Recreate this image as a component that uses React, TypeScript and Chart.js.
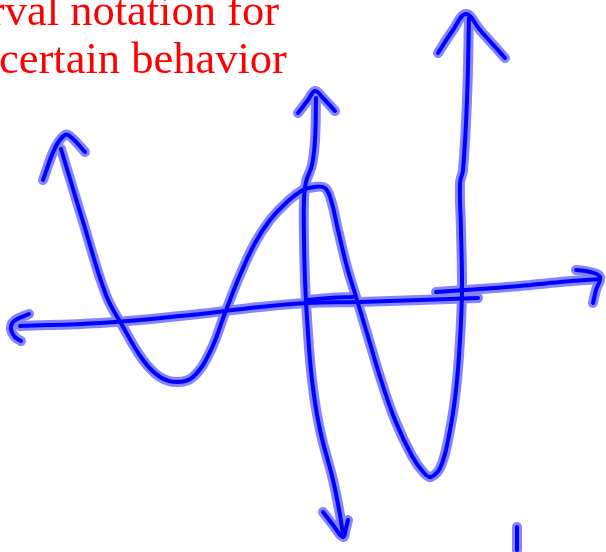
import { useEffect, useRef } from "react";
import { Chart, registerables } from "chart.js";

Chart.register(...registerables);

const WIDTH = 606;
const HEIGHT = 552;

// Caption (red serif text, top-left)
const captionLines = ["interval notation for", "certain behavior"];

// Hand-drawn strokes, in sketch-space units (x to the right, y downward)
const waveX = [61, 84, 106, 122, 143, 160, 177, 193, 210, 225, 240, 255, 270, 287, 303, 315, 325, 331, 338, 347, 357, 369, 381, 395, 412, 424, 431, 441, 450, 456, 460, 462, 461, 460, 463, 467, 469];
const waveY = [149, 225, 295, 325, 360, 377, 382, 377, 352, 313, 275, 243, 220, 202, 190, 187, 188, 200, 230, 267, 300, 340, 380, 420, 456, 473, 477, 466, 430, 390, 340, 290, 230, 183, 170, 100, 18];

const leftArrowX = [43, 55, 65, 71, 85];
const leftArrowY = [180, 148, 135, 137, 152];

const rightArrowX = [438, 453, 466, 480, 505];
const rightArrowY = [53, 30, 14, 30, 58];

const yAxisX = [316, 315, 312, 306, 304, 304, 305, 307, 312, 320, 333, 340, 343];
const yAxisY = [98, 140, 165, 182, 200, 240, 280, 318, 380, 430, 480, 515, 535];

const yTopArrowX = [298, 308, 315, 323, 335];
const yTopArrowY = [113, 100, 91, 98, 111];

const yBottomArrowX = [323, 333, 343, 346, 348];
const yBottomArrowY = [512, 525, 537, 528, 520];

const xAxisX = [20, 100, 180, 260, 307, 360, 420, 478];
const xAxisY = [326, 323, 316, 307, 303, 302, 300, 298];

const xAxisPatchX = [307, 330, 353];
const xAxisPatchY = [300, 298, 297];

const xAxisRightX = [436, 480, 520, 560, 600];
const xAxisRightY = [292, 289, 286, 282, 279];

const xLeftArrowX = [29, 14, 11, 15, 21];
const xLeftArrowY = [314, 321, 329, 337, 341];

const xRightArrowX = [576, 590, 600, 596, 593];
const xRightArrowY = [270, 272, 277, 290, 303];

const tickMarkX = [517, 517];
const tickMarkY = [527, 550];

const strokes = [
  { name: "wave", xs: waveX, ys: waveY },
  { name: "wave-left-arrow", xs: leftArrowX, ys: leftArrowY },
  { name: "wave-right-arrow", xs: rightArrowX, ys: rightArrowY },
  { name: "y-axis", xs: yAxisX, ys: yAxisY },
  { name: "y-axis-top", xs: yTopArrowX, ys: yTopArrowY },
  { name: "y-axis-bottom", xs: yBottomArrowX, ys: yBottomArrowY },
  { name: "x-axis", xs: xAxisX, ys: xAxisY },
  { name: "x-axis-patch", xs: xAxisPatchX, ys: xAxisPatchY },
  { name: "x-axis-right", xs: xAxisRightX, ys: xAxisRightY },
  { name: "x-axis-left-arrow", xs: xLeftArrowX, ys: xLeftArrowY },
  { name: "x-axis-right-arrow", xs: xRightArrowX, ys: xRightArrowY },
  { name: "tick", xs: tickMarkX, ys: tickMarkY },
];

const toPoints = (xs: number[], ys: number[]) => xs.map((x, i) => ({ x, y: ys[i] }));

const captionPlugin = {
  id: "caption",
  afterDraw(chart: Chart) {
    const ctx = chart.ctx;
    ctx.save();
    ctx.fillStyle = "#ff0000";
    ctx.font = "44.5px 'Liberation Serif', 'Times New Roman', serif";
    ctx.textBaseline = "alphabetic";
    ctx.textAlign = "right";
    ctx.fillText(captionLines[0], 279, 25);
    ctx.textAlign = "left";
    ctx.fillText(captionLines[1], -1, 73);
    ctx.restore();
  },
};

export default function App() {
  const canvasRef = useRef<HTMLCanvasElement | null>(null);

  useEffect(() => {
    const canvas = canvasRef.current;
    if (!canvas) return;

    const common = {
      showLine: true,
      pointRadius: 0,
      pointHoverRadius: 0,
      tension: 0.4,
      borderCapStyle: "round" as const,
      borderJoinStyle: "round" as const,
      fill: false,
    };

    // soft halo underneath every stroke, then the solid pen line on top
    const halos = strokes.map((s) => ({
      ...common,
      label: s.name + "-halo",
      data: toPoints(s.xs, s.ys),
      borderColor: "#8585ff",
      borderWidth: 10,
      order: 1,
    }));
    const cores = strokes.map((s) => ({
      ...common,
      label: s.name,
      data: toPoints(s.xs, s.ys),
      borderColor: "#0000ff",
      borderWidth: 4,
      order: 0,
    }));

    const chart = new Chart(canvas, {
      type: "scatter",
      data: { datasets: [...cores, ...halos] },
      options: {
        responsive: false,
        animation: false,
        events: [],
        layout: { padding: 0 },
        plugins: {
          legend: { display: false },
          tooltip: { enabled: false },
          title: { display: false },
        },
        scales: {
          x: { type: "linear", min: 0, max: WIDTH, display: false },
          y: { type: "linear", min: 0, max: HEIGHT, reverse: true, display: false },
        },
      },
      plugins: [captionPlugin],
    });

    return () => chart.destroy();
  }, []);

  return (
    <div style={{ position: "fixed", left: 0, top: 0, width: WIDTH, height: HEIGHT, background: "#ffffff" }}>
      <canvas ref={canvasRef} width={WIDTH} height={HEIGHT} style={{ display: "block", width: WIDTH, height: HEIGHT }} />
    </div>
  );
}
